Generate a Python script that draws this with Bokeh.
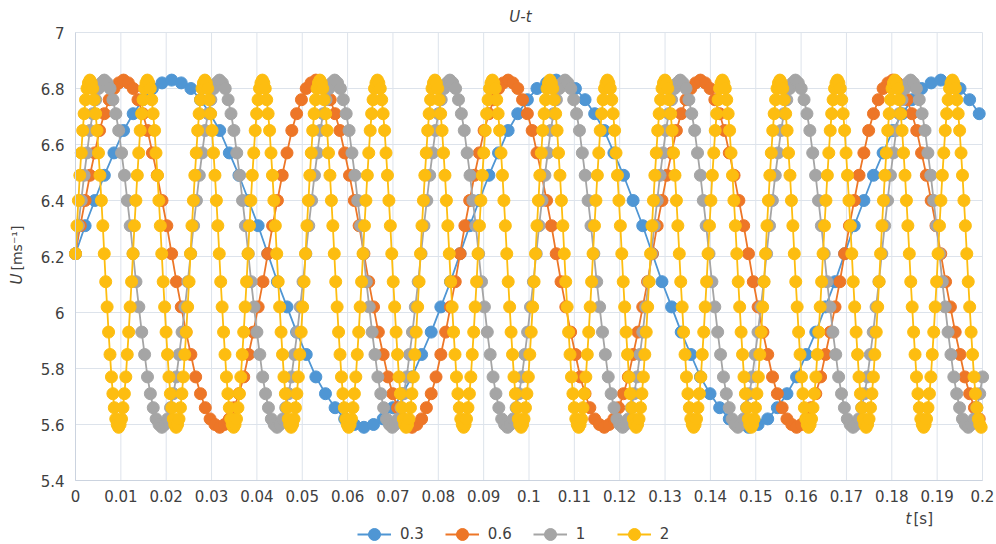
import numpy as np
from bokeh.plotting import figure
from bokeh.models import (Range1d, FixedTicker, Label, Legend, LegendItem,
                          LinearAxis, Grid)
from bokeh.embed import file_html
from bokeh.resources import INLINE

# ---------------- data ----------------
series_labels = ["0.3", "0.6", "1", "2"]
series_colors = ["#4f96d4", "#ed7627", "#a5a5a5", "#fdbd10"]

# U levels visited in one oscillation cycle (all four series pass through the same levels)
u_cycle = [6.21, 6.31, 6.40, 6.49, 6.57, 6.65, 6.71, 6.76, 6.80, 6.82,
           6.83, 6.82, 6.80, 6.76, 6.71, 6.65, 6.57, 6.49, 6.40, 6.31,
           6.21, 6.11, 6.02, 5.93, 5.85, 5.77, 5.71, 5.66, 5.62, 5.60,
           5.59, 5.60, 5.62, 5.66, 5.71, 5.77, 5.85, 5.93, 6.02, 6.11]
# sampling interval [s] and number of samples of each series
sample_step = [0.00212, 0.00106, 0.000635, 0.000317]
sample_count = [95, 189, 316, 631]

x_ticks = [0, 0.01, 0.02, 0.03, 0.04, 0.05, 0.06, 0.07, 0.08, 0.09, 0.1,
           0.11, 0.12, 0.13, 0.14, 0.15, 0.16, 0.17, 0.18, 0.19, 0.2]
x_tick_labels = ["0", "0.01", "0.02", "0.03", "0.04", "0.05", "0.06", "0.07",
                 "0.08", "0.09", "0.1", "0.11", "0.12", "0.13", "0.14", "0.15",
                 "0.16", "0.17", "0.18", "0.19", "0.2"]
y_ticks = [5.4, 5.6, 5.8, 6, 6.2, 6.4, 6.6, 6.8, 7]
y_tick_labels = ["5.4", "5.6", "5.8", "6", "6.2", "6.4", "6.6", "6.8", "7"]
x_lo, x_hi = 0, 0.2
y_lo, y_hi = 5.4, 7

# ---------------- figure ----------------
FONT = "DejaVu Sans"
TXT = "#404040"
GRID = "#dde3eb"
W, H = 996, 544
# plot area inside the canvas (pixels)
left, right, top, bottom = 75, 982, 32, 480
sx = (x_hi - x_lo) / (right - left)
sy = (y_hi - y_lo) / (bottom - top)

def px_x(px):
    return x_lo + (px - left) * sx

def px_y(py):
    return y_hi - (py - top) * sy

p = figure(width=W, height=H, title=None,
           x_range=Range1d(x_lo - left * sx, x_hi + (W - right) * sx),
           y_range=Range1d(y_lo - (H - bottom) * sy, y_hi + top * sy),
           x_axis_location=None, y_axis_location=None,
           output_backend="svg", toolbar_location=None)
p.min_border = 0
p.outline_line_color = None
p.background_fill_color = "white"
# drop any default full-width grids
p.center = [r for r in p.center if not isinstance(r, Grid)]

# grid lines limited to the plot area
p.segment(x0=x_ticks, y0=[y_lo] * len(x_ticks), x1=x_ticks, y1=[y_hi] * len(x_ticks),
          line_color=GRID, line_width=1)
p.segment(x0=[x_lo] * len(y_ticks), y0=y_ticks, x1=[x_hi] * len(y_ticks), y1=y_ticks,
          line_color=GRID, line_width=1)

xaxis = LinearAxis(fixed_location=y_lo, bounds=(x_lo, x_hi),
                   ticker=FixedTicker(ticks=x_ticks),
                   major_label_overrides=dict(zip(x_ticks, x_tick_labels)),
                   major_label_standoff=9)
yaxis = LinearAxis(fixed_location=x_lo, bounds=(y_lo, y_hi),
                   ticker=FixedTicker(ticks=y_ticks),
                   major_label_overrides=dict(zip(y_ticks, y_tick_labels)),
                   major_label_standoff=11)
for ax in (xaxis, yaxis):
    ax.axis_line_color = "#cbd3df"
    ax.major_tick_out = 0
    ax.major_tick_in = 0
    ax.minor_tick_out = 0
    ax.minor_tick_in = 0
    ax.major_label_text_font = FONT
    ax.major_label_text_font_size = "15px"
    ax.major_label_text_color = TXT
p.add_layout(xaxis, "below")
p.add_layout(yaxis, "left")

items = []
for lbl, col, dt, n in zip(series_labels, series_colors, sample_step, sample_count):
    t = np.arange(n) * dt
    u = np.resize(np.array(u_cycle), n)
    r_line = p.line(t, u, line_color=col, line_width=1.8)
    r_dot = p.scatter(t, u, size=12, fill_color=col, line_color=col)
    items.append(LegendItem(label=lbl, renderers=[r_line, r_dot]))

legend = Legend(items=items, orientation="horizontal", location=(357, -5),
                glyph_width=34, glyph_height=30, label_height=14,
                label_standoff=9, spacing=21, padding=0, margin=0,
                background_fill_alpha=0, border_line_alpha=0,
                label_text_font=FONT, label_text_font_size="15px",
                label_text_color=TXT)
p.add_layout(legend)

def lab(x, y, text, italic=False, angle=0.0, align="left", size="15px"):
    p.add_layout(Label(x=x, y=y, text=text, angle=angle,
                       text_font=FONT, text_font_size=size,
                       text_font_style="italic" if italic else "normal",
                       text_color=TXT, text_align=align,
                       text_baseline="middle"))

# title
lab(px_x(520), px_y(16), "U-t", italic=True, align="center")
# y axis title
lab(px_x(16), px_y(284), "U", italic=True, angle=np.pi / 2)
lab(px_x(16), px_y(270), "[ms⁻¹]", angle=np.pi / 2, size="14px")
# x axis title
lab(px_x(905), px_y(518), "t", italic=True)
lab(px_x(913), px_y(518), "[s]")

open("out.html", "w").write(file_html(p, INLINE))
